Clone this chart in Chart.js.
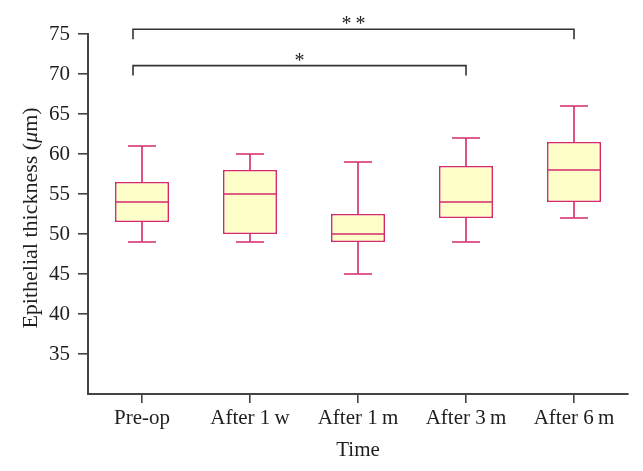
<!DOCTYPE html>
<html>
<head>
<meta charset="utf-8">
<script src="https://cdn.jsdelivr.net/npm/chart.js@4"></script>
<style>
  html, body { margin: 0; padding: 0; background: #fff; }
  #wrap { width: 643px; height: 471px; }
</style>
</head>
<body>
<div id="wrap"><canvas id="boxChart"></canvas></div>
<script>
// --- DATA ---
const timeLabels = ['Pre-op', 'After 1\u2009w', 'After 1\u2009m', 'After 3\u2009m', 'After 6\u2009m'];
const minValues    = [49, 49, 45, 49, 52];
const q1Values     = [51.5, 50, 49, 52, 54];
const medianValues = [54, 55, 50, 54, 58];
const q3Values     = [56.5, 58, 52.5, 58.5, 61.5];
const maxValues    = [61, 60, 59, 62, 66];

// significance brackets (category index from/to, height in µm, label)
const bracketFrom  = [0, 0];
const bracketTo    = [3, 4];
const bracketLevel = [71.05, 75.6];
const bracketText  = ['*', '**'];

const boxColor = '#d6286c';
const boxFill = '#fefec8';
const axisColor = '#444444';
const textColor = '#1e1e1e';
const serif = '"Liberation Serif", "DejaVu Serif", serif';
const fontSize = 21;

// whiskers, medians, brackets and the y title (with italic mu)
const whiskerPlugin = {
  id: 'whiskers',
  afterDatasetsDraw(chart) {
    const { ctx, scales: { y } } = chart;
    const bars = chart.getDatasetMeta(0).data;
    ctx.save();
    ctx.strokeStyle = boxColor;
    ctx.lineWidth = 1.6;
    bars.forEach((bar, i) => {
      const cx = bar.x;
      const half = bar.width / 2;
      const cap = bar.width * 0.26;
      const yMin = y.getPixelForValue(minValues[i]);
      const yMax = y.getPixelForValue(maxValues[i]);
      const yQ1 = y.getPixelForValue(q1Values[i]);
      const yQ3 = y.getPixelForValue(q3Values[i]);
      const yMed = y.getPixelForValue(medianValues[i]);
      ctx.beginPath();
      ctx.moveTo(cx, yQ3); ctx.lineTo(cx, yMax);
      ctx.moveTo(cx - cap, yMax); ctx.lineTo(cx + cap, yMax);
      ctx.moveTo(cx, yQ1); ctx.lineTo(cx, yMin);
      ctx.moveTo(cx - cap, yMin); ctx.lineTo(cx + cap, yMin);
      ctx.moveTo(cx - half, yMed); ctx.lineTo(cx + half, yMed);
      ctx.stroke();
    });
    ctx.restore();
  },
  afterDraw(chart) {
    const { ctx, scales: { x, y } } = chart;
    ctx.save();
    ctx.strokeStyle = '#333';
    ctx.lineWidth = 1.6;
    ctx.fillStyle = textColor;
    ctx.font = '20px ' + serif;
    ctx.textAlign = 'center';
    ctx.textBaseline = 'alphabetic';
    bracketFrom.forEach((from, i) => {
      const x1 = x.getPixelForValue(from) - 9;
      const x2 = x.getPixelForValue(bracketTo[i]);
      const yTop = y.getPixelForValue(bracketLevel[i]);
      const yLeg = y.getPixelForValue(bracketLevel[i] - 1.25);
      ctx.beginPath();
      ctx.moveTo(x1, yLeg); ctx.lineTo(x1, yTop);
      ctx.lineTo(x2, yTop); ctx.lineTo(x2, yLeg);
      ctx.stroke();
      ctx.fillText(bracketText[i].split('').join('\u2009'), (x1 + x2) / 2, yTop + 1);
    });

    // y axis title: "Epithelial thickness (μm)" with italic μ
    const titleSize = 22;
    const parts = [['Epithelial thickness (', 'normal'], ['\u03bc', 'italic'], ['m)', 'normal']];
    const widths = parts.map(p => { ctx.font = p[1] + ' ' + titleSize + 'px ' + serif; return ctx.measureText(p[0]).width; });
    const total = widths.reduce((a, b) => a + b, 0);
    const cy = (y.top + y.bottom) / 2 + 4;
    ctx.translate(37, cy);
    ctx.rotate(-Math.PI / 2);
    ctx.textAlign = 'left';
    let pos = -total / 2;
    parts.forEach((p, i) => {
      ctx.font = p[1] + ' ' + titleSize + 'px ' + serif;
      ctx.fillText(p[0], pos, 0);
      pos += widths[i];
    });
    ctx.restore();
  }
};

new Chart(document.getElementById('boxChart'), {
  type: 'bar',
  data: {
    labels: timeLabels,
    datasets: [{
      data: q1Values.map((q, i) => [q, q3Values[i]]),
      backgroundColor: boxFill,
      borderColor: boxColor,
      borderWidth: 1.6,
      borderSkipped: false,
      barPercentage: 0.5,
      categoryPercentage: 1.0
    }]
  },
  options: {
    responsive: true,
    maintainAspectRatio: false,
    animation: false,
    layout: { padding: { top: 34, right: 15, left: 0, bottom: 0 } },
    plugins: {
      legend: { display: false },
      tooltip: { enabled: false }
    },
    scales: {
      x: {
        grid: { display: true, offset: false, drawOnChartArea: false, tickLength: 9, color: axisColor, lineWidth: 1.6 },
        border: { display: true, color: axisColor, width: 2 },
        ticks: { color: textColor, font: { family: serif, size: fontSize }, padding: 3, maxRotation: 0 },
        title: { display: true, text: 'Time', color: textColor, font: { family: serif, size: fontSize }, padding: { top: 0, bottom: 8 } },
        afterFit: (scale) => { scale.height = 77; }
      },
      y: {
        min: 30,
        max: 75,
        afterBuildTicks: (scale) => { scale.ticks = scale.ticks.filter(t => t.value !== 30); },
        grid: { display: true, drawOnChartArea: false, tickLength: 10, color: axisColor, lineWidth: 1.6 },
        border: { display: true, color: axisColor, width: 2 },
        ticks: { stepSize: 5, color: textColor, font: { family: serif, size: fontSize }, padding: 8 },
        title: { display: false },
        afterFit: (scale) => { scale.width = 88; }
      }
    }
  },
  plugins: [whiskerPlugin]
});
</script>
</body>
</html>
